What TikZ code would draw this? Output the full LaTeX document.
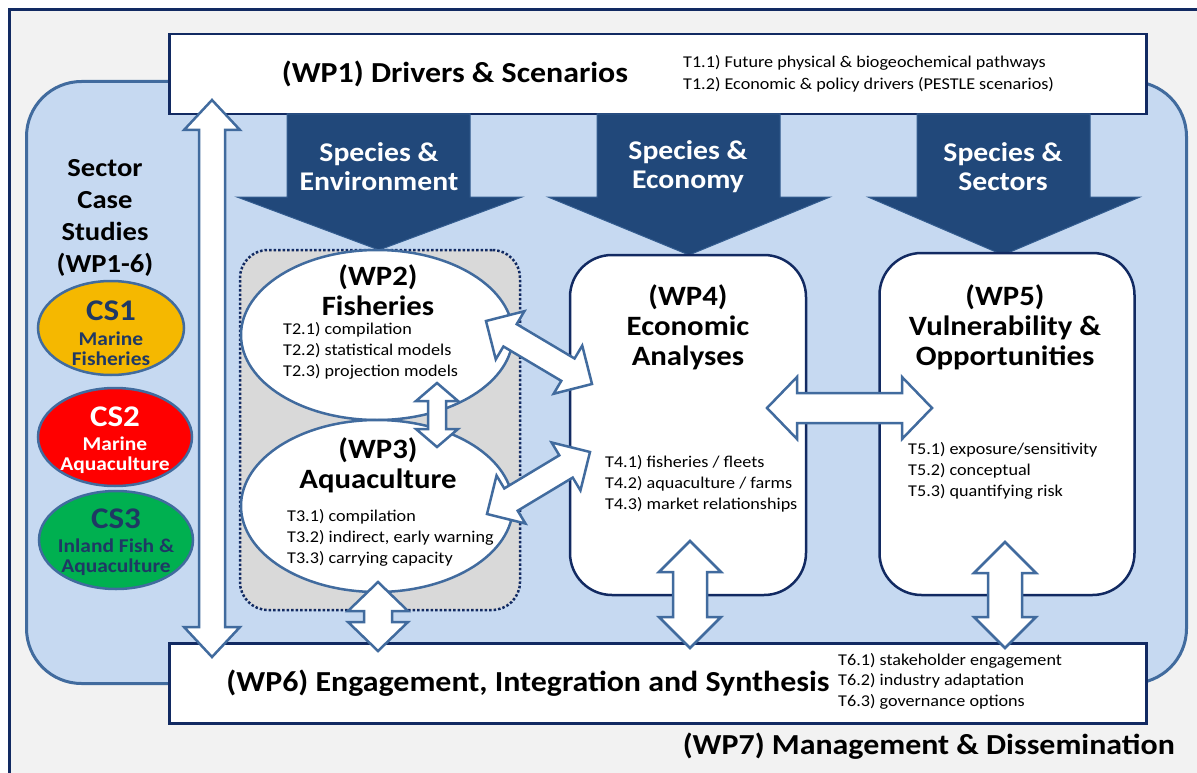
\documentclass[tikz,border=0pt]{standalone}
\usepackage{fontspec}
\setmainfont{Carlito}[FakeStretch=1.1]
\usepackage{xcolor}
\usepackage{tikz}
\usetikzlibrary{shapes,positioning,calc}

\definecolor{navy}{RGB}{18,42,98}
\definecolor{steel}{RGB}{65,107,158}
\definecolor{panel}{RGB}{198,217,241}
\definecolor{deepblue}{RGB}{33,72,122}
\definecolor{framegrey}{RGB}{242,242,242}
\definecolor{greyzone}{RGB}{217,217,217}
\definecolor{csgold}{RGB}{245,184,0}
\definecolor{csred}{RGB}{255,0,0}
\definecolor{csgreen}{RGB}{0,176,80}
\definecolor{cstext}{RGB}{31,56,100}

% hollow double arrow between two named points: from, to, shaft half, head half, head length
\newcommand{\fatarrow}[5]{%
  \draw[fatarr] (#1) -- ($(#1)!#5!(#2)!#4!90:(#2)$) -- ($(#1)!#5!(#2)!#3!90:(#2)$)
    -- ($(#2)!#5!(#1)!#3!-90:(#1)$) -- ($(#2)!#5!(#1)!#4!-90:(#1)$) -- (#2)
    -- ($(#2)!#5!(#1)!#4!90:(#1)$) -- ($(#2)!#5!(#1)!#3!90:(#1)$)
    -- ($(#1)!#5!(#2)!#3!-90:(#2)$) -- ($(#1)!#5!(#2)!#4!-90:(#2)$) -- cycle;}

\begin{document}
\begin{tikzpicture}[x=1pt, y=-1pt,
    wpbox/.style={draw=navy, line width=2.5pt, fill=white, inner sep=0pt},
    ttl/.style={font=\fontsize{28}{30}\selectfont\bfseries, align=center, inner sep=0pt},
    bigttl/.style={font=\fontsize{29}{30}\selectfont\bfseries, align=center, inner sep=0pt},
    task/.style={font=\fontsize{16.5}{21}\selectfont, align=left, inner sep=0pt},
    spc/.style={font=\fontsize{27}{29}\selectfont\bfseries, text=white, align=center, inner sep=0pt},
    csnode/.style={ellipse, draw=steel, line width=2.5pt, inner sep=0pt},
    fatarr/.style={draw=steel, fill=white, line width=2.5pt},
    shoot/.style={fill=deepblue, draw=steel!60!deepblue, line width=1pt}]
    \useasboundingbox (0,0) rectangle (1197,773);
    \clip (0,0) rectangle (1197,773);

    % Frame and panel
    \node[draw=navy, line width=3pt, fill=framegrey, minimum width=1230pt, minimum height=810pt, anchor=north west] (frame) at (8,8) {};
    \node[draw=steel, line width=3pt, fill=panel, rounded corners=55pt, minimum width=1160pt, minimum height=602pt, anchor=north west] (panel) at (25,80) {};

    % Drivers
    \node[wpbox, minimum width=977pt, minimum height=80pt, anchor=north west] (wp1) at (168,33) {};
    \node[bigttl] (wp1t) at (455,74) {(WP1) Drivers \& Scenarios};
    \node[task, anchor=west, font=\fontsize{16.5}{22}\selectfont] (wp1k) at (683,74) {T1.1) Future physical \& biogeochemical pathways\\T1.2) Economic \& policy drivers (PESTLE scenarios)};

    % Flows down from WP1
    \draw[shoot] (287,114) -- (287,197) -- (237,197) -- (379,250) -- (522,197) -- (470,197) -- (470,114) -- cycle;
    \draw[shoot] (597,114) -- (597,197) -- (548,197) -- (689,255) -- (830,197) -- (780,197) -- (780,114) -- cycle;
    \draw[shoot] (917,114) -- (917,197) -- (868,197) -- (1003,255) -- (1140,197) -- (1090,197) -- (1090,114) -- cycle;
    \node[spc] (sp1) at (379,167) {Species \&\\Environment};
    \node[spc] (sp2) at (688,167) {Species \&\\Economy};
    \node[spc] (sp3) at (1003,167) {Species \&\\Sectors};

    % Case studies
    \node[ttl, font=\fontsize{26}{32}\selectfont\bfseries] (cases) at (105,218) {Sector\\Case\\Studies\\(WP1-6)};
    \node[csnode, fill=csgold, minimum width=146pt, minimum height=94pt] (cs1) at (111,328) {};
    \node[csnode, fill=csred, minimum width=154pt, minimum height=98pt] (cs2) at (115,437) {};
    \node[csnode, fill=csgreen, minimum width=154pt, minimum height=98pt] (cs3) at (116,540) {};
    \node[ttl, text=cstext, font=\fontsize{30}{30}\selectfont\bfseries] (cs1a) at (111,311) {CS1};
    \node[ttl, text=cstext, font=\fontsize{19.5}{20}\selectfont\bfseries] (cs1b) at (111,349) {Marine\\Fisheries};
    \node[ttl, text=white, font=\fontsize{30}{30}\selectfont\bfseries] (cs2a) at (115,417) {CS2};
    \node[ttl, text=white, font=\fontsize{19.5}{20}\selectfont\bfseries] (cs2b) at (115,455) {Marine\\Aquaculture};
    \node[ttl, text=cstext, font=\fontsize{30}{30}\selectfont\bfseries] (cs3a) at (116,519) {CS3};
    \node[ttl, text=cstext, font=\fontsize{19.5}{20}\selectfont\bfseries] (cs3b) at (116,557) {Inland Fish \&\\Aquaculture};

    % Species models
    \node[draw=navy, dotted, line width=2.5pt, fill=greyzone, rounded corners=28pt, minimum width=280pt, minimum height=360pt] (zone) at (380,430) {};
    \node[csnode, fill=white, minimum width=272pt, minimum height=170pt] (wp2) at (377,335) {};
    \node[csnode, fill=white, minimum width=272pt, minimum height=172pt] (wp3) at (377,506) {};
    \node[ttl] (wp2t) at (378,290) {(WP2)\\Fisheries};
    \node[task, anchor=west] (wp2k) at (283,351) {T2.1) compilation\\T2.2) statistical models\\T2.3) projection models};
    \node[ttl] (wp3t) at (378,465) {(WP3)\\Aquaculture};
    \node[task, anchor=west] (wp3k) at (287,538) {T3.1) compilation\\T3.2) indirect, early warning\\T3.3) carrying capacity};

    % Economics and vulnerability
    \node[wpbox, rounded corners=42pt, minimum width=236pt, minimum height=340pt] (wp4) at (688,425) {};
    \node[ttl] (wp4t) at (688,327) {(WP4)\\Economic\\Analyses};
    \node[task, anchor=west] (wp4k) at (605,484) {T4.1) fisheries / fleets\\T4.2) aquaculture / farms\\T4.3) market relationships};
    \node[wpbox, rounded corners=42pt, minimum width=255pt, minimum height=342pt] (wp5) at (1007,424) {};
    \node[ttl] (wp5t) at (1005,327) {(WP5)\\Vulnerability \&\\Opportunities};
    \node[task, anchor=west] (wp5k) at (908,471) {T5.1) exposure/sensitivity\\T5.2) conceptual\\T5.3) quantifying risk};

    % Synthesis
    \node[wpbox, minimum width=977pt, minimum height=80pt, anchor=north west] (wp6) at (168,642) {};
    \node[bigttl] (wp6t) at (528,683) {(WP6) Engagement, Integration and Synthesis};
    \node[task, anchor=west, font=\fontsize{16.5}{20.5}\selectfont] (wp6k) at (838,681) {T6.1) stakeholder engagement\\T6.2) industry adaptation\\T6.3) governance options};
    \node[bigttl, anchor=east] (wp7) at (1175,746) {(WP7) Management \& Dissemination};

    % Links
    \coordinate (l1) at (212,100);  \coordinate (l2) at (212,657);
    \coordinate (f1) at (437,383);  \coordinate (f2) at (437,447);
    \coordinate (g1) at (378,582);  \coordinate (g2) at (378,651);
    \coordinate (e1) at (690,541);  \coordinate (e2) at (690,648);
    \coordinate (v1) at (1005,542); \coordinate (v2) at (1005,648);
    \coordinate (h1) at (767,408);  \coordinate (h2) at (932,408);
    \coordinate (d1) at (486,321);  \coordinate (d2) at (592,384);
    \coordinate (d3) at (487,514);  \coordinate (d4) at (590,452);
    \fatarrow{l1}{l2}{13pt}{28pt}{30pt}
    \fatarrow{f1}{f2}{9pt}{21pt}{18pt}
    \fatarrow{g1}{g2}{14pt}{30pt}{29pt}
    \fatarrow{e1}{e2}{17pt}{31pt}{31pt}
    \fatarrow{v1}{v2}{17pt}{31pt}{31pt}
    \fatarrow{h1}{h2}{15pt}{31pt}{30pt}
    \fatarrow{d1}{d2}{13pt}{28pt}{28pt}
    \fatarrow{d3}{d4}{13pt}{28pt}{28pt}
\end{tikzpicture}
\end{document}
